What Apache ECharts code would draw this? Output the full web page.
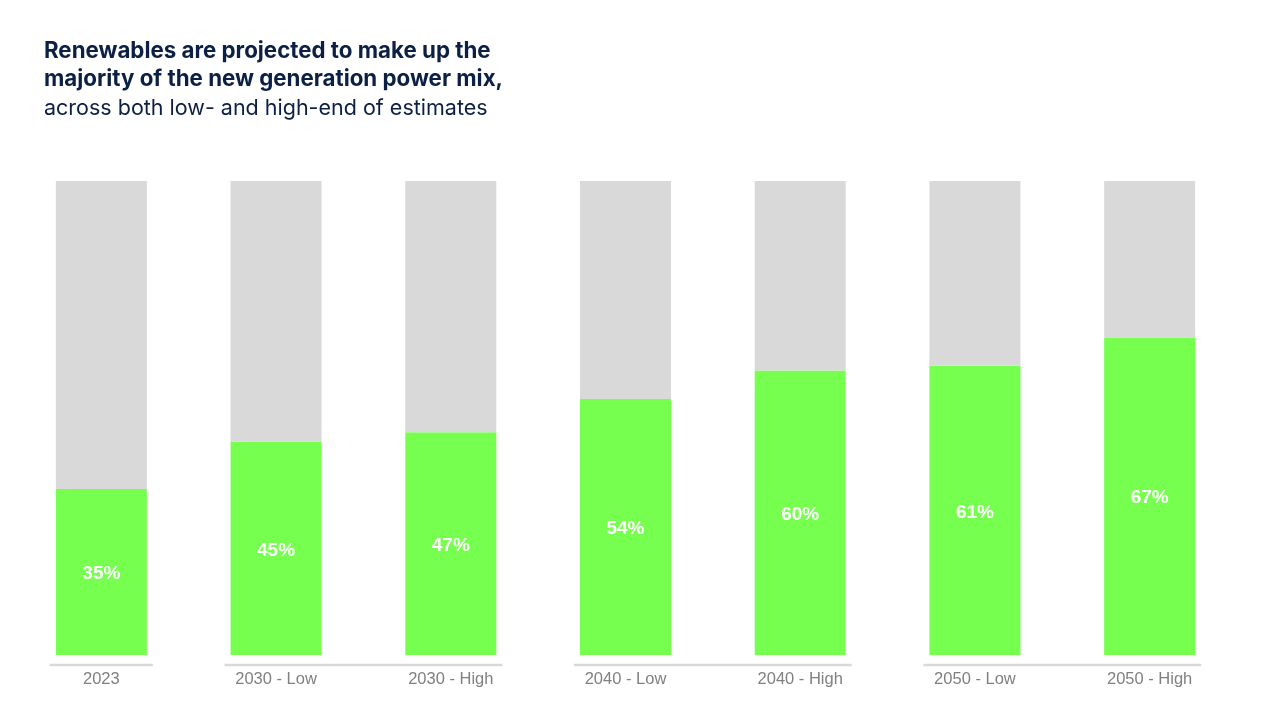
<!DOCTYPE html>
<html>
<head>
<meta charset="utf-8">
<script src="https://cdn.jsdelivr.net/npm/echarts@6/dist/echarts.min.js"></script>
<style>html,body{margin:0;padding:0;background:#fff}#c{width:1274px;height:728px}</style>
</head>
<body>
<div id="c"></div>
<script>
var categories = ['2023', '2030 - Low', '2030 - High', '2040 - Low', '2040 - High', '2050 - Low', '2050 - High'];
var renewables = [35, 45, 47, 54, 60, 61, 67];
var other = renewables.map(function (v) { return 100 - v; });
var groups = [[0, 0], [1, 2], [3, 4], [5, 6]];

var chart = echarts.init(document.getElementById('c'));
chart.setOption({
  animation: false,
  title: {
    text: 'Renewables are projected to make up the\nmajority of the new generation power mix,',
    subtext: 'across both low- and high-end of estimates',
    left: 39, top: 32, itemGap: 0,
    textStyle: { fontFamily: 'Inter', fontWeight: 'bold', fontSize: 22.3, color: '#0c1f45', lineHeight: 28.5 },
    subtextStyle: { fontFamily: 'Inter', fontWeight: 'normal', fontSize: 21.5, color: '#0c1f45', lineHeight: 28.5 }
  },
  grid: { left: 14, right: 37, top: 181, bottom: 73 },
  xAxis: {
    type: 'category', data: categories,
    axisLine: { show: false }, axisTick: { show: false },
    axisLabel: { color: '#808080', fontSize: 16.5, fontFamily: 'Liberation Sans', margin: 16 }
  },
  yAxis: { type: 'value', min: 0, max: 100, show: false, splitLine: { show: false } },
  series: [
    {
      type: 'bar', stack: 'a', data: renewables, barWidth: 91,
      itemStyle: { color: '#77ff4f' },
      label: { show: true, position: 'inside', offset: [0, 2], formatter: '{c}%', color: '#fff', fontWeight: 'bold', fontSize: 19, fontFamily: 'Liberation Sans' }
    },
    {
      type: 'bar', stack: 'a', data: other, barWidth: 91,
      itemStyle: { color: '#d9d9d9' }
    },
    {
      type: 'custom', clip: false, silent: true,
      data: groups,
      renderItem: function (params, api) {
        var s = api.coord([api.value(0), 0]);
        var e = api.coord([api.value(1), 0]);
        var bw = api.size([1, 0])[0];
        var ext = bw * 0.295;
        return {
          type: 'line',
          shape: { x1: s[0] - ext, y1: s[1] + 10, x2: e[0] + ext, y2: e[1] + 10 },
          style: { stroke: '#d9d9d9', lineWidth: 2.5 }
        };
      },
      encode: { x: [0, 1] }
    }
  ]
});
</script>
</body>
</html>
